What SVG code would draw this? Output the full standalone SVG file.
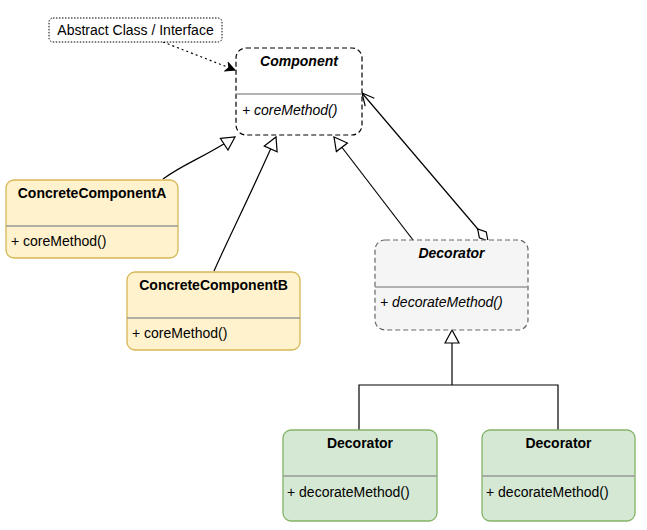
<svg xmlns="http://www.w3.org/2000/svg" width="647" height="530" viewBox="0 0 647 530">
<style>
text{font-family:"Liberation Sans",Arial,sans-serif;font-size:14px;fill:#000}
.t{font-weight:bold;text-anchor:middle}
.i{font-style:italic}
.yel{fill:#fff2cc;stroke:#d6b656;stroke-width:1.3}
.grn{fill:#d5e8d4;stroke:#82b366;stroke-width:1.3}
.div{stroke:#999;stroke-width:1.3}
.abs{fill:#fff;stroke:#000;stroke-width:1.2;stroke-dasharray:5,3}
.dec{fill:#f5f5f5;stroke:#666;stroke-width:1.2;stroke-dasharray:5,3}
.c{fill:none;stroke:#000;stroke-width:1.2}
</style>
<defs>
<marker id="tri" markerWidth="16" markerHeight="16" refX="14" refY="8" orient="auto" markerUnits="userSpaceOnUse"><path d="M1,1 L14,8 L1,15 Z" fill="#fff" stroke="#000" stroke-width="1.2"/></marker>
<marker id="open" markerWidth="16" markerHeight="16" refX="14" refY="8" orient="auto" markerUnits="userSpaceOnUse"><path d="M2,2 L14,8 L2,14" fill="none" stroke="#000" stroke-width="1.2"/></marker>
<marker id="dia" markerWidth="22" markerHeight="12" refX="1" refY="6" orient="auto" markerUnits="userSpaceOnUse"><path d="M1,6 L9,1.5 L17,6 L9,10.5 Z" fill="#fff" stroke="#000" stroke-width="1.2"/></marker>
<marker id="cls" markerWidth="12" markerHeight="12" refX="10" refY="6" orient="auto" markerUnits="userSpaceOnUse"><path d="M1,1.5 L10,6 L1,10.5 L3.5,6 Z" fill="#000" stroke="#000" stroke-width="1"/></marker>
</defs>
<g id="connectors">
<path class="c" d="M163,42 L235,70" stroke-dasharray="2,3" marker-end="url(#cls)"/>
<path class="c" d="M163,179 C185,163 203,158 235,137" marker-end="url(#tri)"/>
<path class="c" d="M214,271 C230,235 248,200 276,137" marker-end="url(#tri)"/>
<path class="c" d="M413,240 L334,137" marker-end="url(#tri)"/>
<path class="c" d="M488,241 L362,93" marker-start="url(#dia)" marker-end="url(#open)"/>
<path class="c" d="M359,430 V385 H558 V430"/>
<path class="c" d="M452,385 V330" marker-end="url(#tri)"/>
</g>
<g id="note">
<rect x="49" y="18" width="173" height="24" rx="4" fill="#fff" stroke="#000" stroke-width="1" stroke-dasharray="1.5,1.5"/>
<text x="135.5" y="35" text-anchor="middle">Abstract Class / Interface</text>
</g>
<g id="component">
<rect class="abs" x="236" y="48" width="126" height="87" rx="10"/>
<line class="div" x1="236" y1="94" x2="362" y2="94"/>
<text class="t i" x="299" y="66">Component</text>
<text class="i" x="242" y="115">+ coreMethod()</text>
</g>
<g id="concreteA">
<rect class="yel" x="6" y="180" width="172" height="78" rx="8"/>
<line class="div" x1="6" y1="226" x2="178" y2="226"/>
<text class="t" x="92" y="198">ConcreteComponentA</text>
<text x="11" y="246">+ coreMethod()</text>
</g>
<g id="concreteB">
<rect class="yel" x="127" y="272" width="173" height="78" rx="8"/>
<line class="div" x1="127" y1="318" x2="300" y2="318"/>
<text class="t" x="213.5" y="290">ConcreteComponentB</text>
<text x="132" y="338">+ coreMethod()</text>
</g>
<g id="decorator">
<rect class="dec" x="375" y="240" width="153" height="90" rx="10"/>
<line class="div" x1="375" y1="287" x2="528" y2="287"/>
<text class="t i" x="451.5" y="258" fill="#333">Decorator</text>
<text class="i" x="380" y="307">+ decorateMethod()</text>
</g>
<g id="decoratorA">
<rect class="grn" x="283" y="430" width="154" height="91" rx="8"/>
<line class="div" x1="283" y1="476" x2="437" y2="476"/>
<text class="t" x="360" y="448">Decorator</text>
<text x="287" y="497">+ decorateMethod()</text>
</g>
<g id="decoratorB">
<rect class="grn" x="482" y="430" width="153" height="91" rx="8"/>
<line class="div" x1="482" y1="476" x2="635" y2="476"/>
<text class="t" x="558.5" y="448">Decorator</text>
<text x="486" y="497">+ decorateMethod()</text>
</g>
</svg>
